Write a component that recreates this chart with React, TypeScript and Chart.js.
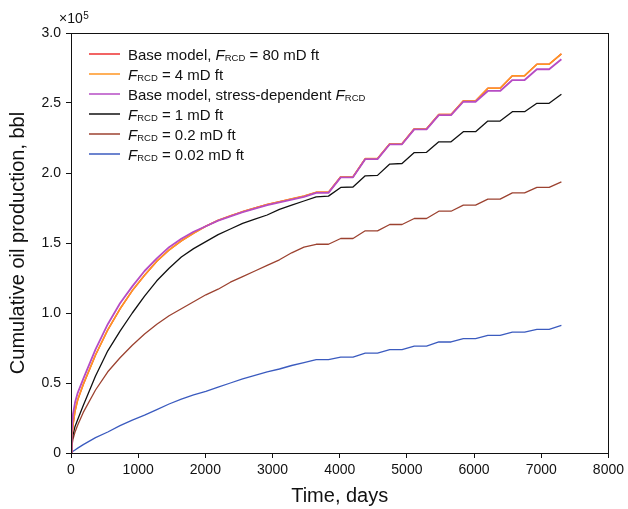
import React, { useEffect, useRef } from "react";
import { Chart, registerables } from "chart.js";

Chart.register(...registerables);

const FONT = 'Arial, "Liberation Sans", Helvetica, sans-serif';

// Time axis (days)
const DAYS = [
  0, 10, 30, 60, 100,
  182.5, 365, 547.5, 730, 912.5, 1095, 1277.5, 1460, 1642.5, 1825,
  2007.5, 2190, 2372.5, 2555, 2737.5, 2920, 3102.5, 3285, 3467.5, 3650,
  3832.5, 4015, 4197.5, 4380, 4562.5, 4745, 4927.5, 5110, 5292.5, 5475,
  5657.5, 5840, 6022.5, 6205, 6387.5, 6570, 6752.5, 6935, 7117.5, 7300,
];

// Cumulative oil production, in units of 1e5 bbl
const BASE_80 = [
  0, 0.10, 0.20, 0.30, 0.38,
  0.49, 0.70, 0.88, 1.03, 1.16, 1.27, 1.37, 1.45, 1.515, 1.57,
  1.62, 1.662, 1.694, 1.724, 1.75, 1.775, 1.795, 1.815, 1.835, 1.862,
  1.862, 1.973, 1.973, 2.103, 2.103, 2.209, 2.209, 2.316, 2.316, 2.418,
  2.418, 2.515, 2.515, 2.605, 2.605, 2.695, 2.695, 2.777, 2.777, 2.851,
];
const F_4 = [
  0, 0.10, 0.20, 0.30, 0.38,
  0.49, 0.70, 0.88, 1.03, 1.16, 1.27, 1.37, 1.45, 1.515, 1.57,
  1.62, 1.662, 1.694, 1.724, 1.75, 1.775, 1.795, 1.815, 1.835, 1.862,
  1.862, 1.973, 1.973, 2.103, 2.103, 2.209, 2.209, 2.316, 2.316, 2.418,
  2.418, 2.515, 2.515, 2.605, 2.605, 2.695, 2.695, 2.777, 2.777, 2.851,
];
const BASE_STRESS = [
  0, 0.15, 0.28, 0.36, 0.43,
  0.53, 0.74, 0.92, 1.07, 1.19, 1.30, 1.39, 1.47, 1.53, 1.58,
  1.62, 1.66, 1.69, 1.72, 1.745, 1.77, 1.79, 1.81, 1.83, 1.858,
  1.858, 1.969, 1.969, 2.099, 2.099, 2.205, 2.205, 2.312, 2.312, 2.414,
  2.414, 2.509, 2.509, 2.586, 2.586, 2.664, 2.664, 2.741, 2.741, 2.813,
];
const F_1 = [
  0, 0.06, 0.13, 0.19, 0.24,
  0.34, 0.55, 0.73, 0.87, 1.00, 1.12, 1.23, 1.32, 1.40, 1.46,
  1.51, 1.56, 1.60, 1.64, 1.67, 1.70, 1.74, 1.77, 1.80, 1.830,
  1.835, 1.897, 1.900, 1.980, 1.983, 2.064, 2.068, 2.146, 2.148, 2.223,
  2.223, 2.295, 2.295, 2.371, 2.371, 2.438, 2.438, 2.498, 2.498, 2.562,
];
const F_02 = [
  0, 0.04, 0.10, 0.15, 0.20,
  0.29, 0.45, 0.58, 0.68, 0.77, 0.85, 0.92, 0.98, 1.03, 1.08,
  1.13, 1.17, 1.22, 1.26, 1.30, 1.34, 1.38, 1.43, 1.47, 1.491,
  1.491, 1.532, 1.532, 1.587, 1.587, 1.632, 1.632, 1.675, 1.675, 1.727,
  1.727, 1.770, 1.770, 1.813, 1.813, 1.858, 1.858, 1.897, 1.897, 1.937,
];
const F_002 = [
  0, 0.005, 0.012, 0.022, 0.035,
  0.06, 0.11, 0.15, 0.195, 0.235, 0.27, 0.31, 0.35, 0.385, 0.415,
  0.44, 0.47, 0.50, 0.53, 0.555, 0.58, 0.60, 0.625, 0.645, 0.667,
  0.667, 0.685, 0.685, 0.714, 0.714, 0.738, 0.738, 0.764, 0.764, 0.793,
  0.793, 0.817, 0.817, 0.840, 0.840, 0.864, 0.864, 0.883, 0.883, 0.912,
];

const X_TICKS = [0, 1000, 2000, 3000, 4000, 5000, 6000, 7000, 8000];
const Y_TICKS = [0, 0.5, 1.0, 1.5, 2.0, 2.5, 3.0];

type Seg = { t: string; italic?: boolean; sub?: boolean };

const SERIES = [
  { key: "base80", data: BASE_80, color: "#ee3030", width: 1.4, order: 2,
    legend: [{ t: "Base model, " }, { t: "F", italic: true }, { t: "RCD", sub: true }, { t: " = 80 mD ft" }] as Seg[] },
  { key: "f4", data: F_4, color: "#ff9622", width: 1.6, order: 1,
    legend: [{ t: "F", italic: true }, { t: "RCD", sub: true }, { t: " = 4 mD ft" }] as Seg[] },
  { key: "stress", data: BASE_STRESS, color: "#b64cc4", width: 1.8, order: 0,
    legend: [{ t: "Base model, stress-dependent " }, { t: "F", italic: true }, { t: "RCD", sub: true }] as Seg[] },
  { key: "f1", data: F_1, color: "#111111", width: 1.3, order: 3,
    legend: [{ t: "F", italic: true }, { t: "RCD", sub: true }, { t: " = 1 mD ft" }] as Seg[] },
  { key: "f02", data: F_02, color: "#9c4230", width: 1.3, order: 4,
    legend: [{ t: "F", italic: true }, { t: "RCD", sub: true }, { t: " = 0.2 mD ft" }] as Seg[] },
  { key: "f002", data: F_002, color: "#3b5bbf", width: 1.3, order: 5,
    legend: [{ t: "F", italic: true }, { t: "RCD", sub: true }, { t: " = 0.02 mD ft" }] as Seg[] },
];

function drawRich(ctx: CanvasRenderingContext2D, x: number, baseline: number, segs: Seg[]) {
  let cx = x;
  for (const s of segs) {
    const size = s.sub ? 9.5 : 15;
    ctx.font = `${s.italic ? "italic " : ""}${size}px ${FONT}`;
    ctx.fillText(s.t, cx, baseline + (s.sub ? 1.8 : 0));
    cx += ctx.measureText(s.t).width;
  }
}

const decorPlugin = {
  id: "decor",
  afterDraw(chart: any) {
    const ctx: CanvasRenderingContext2D = chart.ctx;
    const { left, right, top, bottom } = chart.chartArea;
    ctx.save();
    // frame
    ctx.strokeStyle = "#111";
    ctx.lineWidth = 1;
    ctx.strokeRect(Math.round(left) + 0.5, Math.round(top) + 0.5, Math.round(right - left), Math.round(bottom - top));
    // legend
    ctx.fillStyle = "#111";
    ctx.textAlign = "left";
    ctx.textBaseline = "alphabetic";
    SERIES.forEach((s, i) => {
      const cy = 54 + i * 20;
      ctx.strokeStyle = s.color;
      ctx.lineWidth = 1.5;
      ctx.beginPath();
      ctx.moveTo(89, cy);
      ctx.lineTo(120, cy);
      ctx.stroke();
      drawRich(ctx, 128, cy + 5.5, s.legend);
    });
    // x10^5 multiplier
    ctx.font = `14px ${FONT}`;
    ctx.fillText("×10", 59, 23);
    const w = ctx.measureText("×10").width;
    ctx.font = `10px ${FONT}`;
    ctx.fillText("5", 59 + w + 0.5, 18.5);
    ctx.restore();
  },
};

export default function App() {
  const ref = useRef<HTMLCanvasElement>(null);
  useEffect(() => {
    if (!ref.current) return;
    Chart.defaults.font.family = FONT;
    const chart = new Chart(ref.current, {
      type: "line",
      data: {
        datasets: SERIES.map((s) => ({
          label: s.key,
          data: DAYS.map((d, i) => ({ x: d, y: s.data[i] })),
          borderColor: s.color,
          backgroundColor: s.color,
          borderWidth: s.width,
          pointRadius: 0,
          tension: 0,
          fill: false,
          order: s.order,
          borderJoinStyle: "round" as const,
        })),
      },
      options: {
        responsive: false,
        devicePixelRatio: 1,
        animation: false,
        events: [],
        layout: { padding: { left: 0, top: 33, right: 18, bottom: 0 } },
        plugins: { legend: { display: false }, tooltip: { enabled: false } },
        scales: {
          x: {
            type: "linear",
            min: 0,
            max: 8000,
            afterFit: (scale: any) => { scale.height = 56; },
            afterBuildTicks: (scale: any) => { scale.ticks = X_TICKS.map((v) => ({ value: v })); },
            ticks: { color: "#111", font: { size: 14 }, padding: 4, maxRotation: 0, callback: (v: any) => String(v) },
            grid: { display: true, drawOnChartArea: false, drawTicks: true, tickLength: 5, color: "#111" },
            border: { display: true, color: "#111", width: 1 },
            title: { display: true, text: "Time, days", color: "#111", font: { size: 20 }, padding: { top: 0, bottom: 1 } },
          },
          y: {
            type: "linear",
            min: 0,
            max: 3,
            afterFit: (scale: any) => { scale.width = 71; },
            afterBuildTicks: (scale: any) => { scale.ticks = Y_TICKS.map((v) => ({ value: v })); },
            ticks: { color: "#111", font: { size: 14 }, padding: 5, callback: (v: any) => (Number(v) === 0 ? "0" : Number(v).toFixed(1)) },
            grid: { display: true, drawOnChartArea: false, drawTicks: true, tickLength: 5, color: "#111" },
            border: { display: true, color: "#111", width: 1 },
            title: { display: true, text: "Cumulative oil production, bbl", color: "#111", font: { size: 20 }, padding: { top: 6.5, bottom: 0 } },
          },
        },
      },
      plugins: [decorPlugin],
    } as any);
    return () => chart.destroy();
  }, []);
  return (
    <div style={{ position: "fixed", left: 0, top: 0, width: 628, height: 509, background: "#fff" }}>
      <canvas ref={ref} width={628} height={509} style={{ display: "block", width: 628, height: 509 }} />
    </div>
  );
}
